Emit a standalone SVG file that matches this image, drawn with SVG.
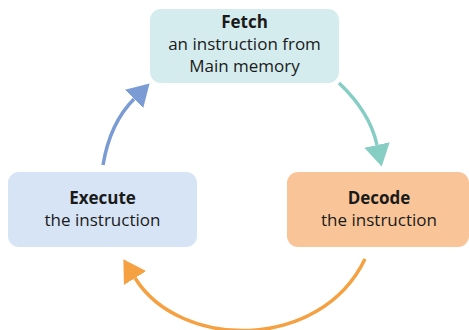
<svg xmlns="http://www.w3.org/2000/svg" width="469" height="330" viewBox="0 0 469 330">
  <style>
    .label { font-family: "Open Sans", "Noto Sans", "DejaVu Sans", sans-serif; font-size: 17px; fill: #1a1a1a; text-anchor: middle; }
    .title { font-weight: bold; }
    .flow { fill: none; stroke-width: 3.5; }
  </style>
  <defs>
    <marker id="head-blue" markerUnits="userSpaceOnUse" markerWidth="22" markerHeight="26" refX="0" refY="13" orient="auto">
      <path d="M0,0 L22,13 L0,26 z" fill="#7b9bd4"/>
    </marker>
    <marker id="head-teal" markerUnits="userSpaceOnUse" markerWidth="22" markerHeight="26" refX="0" refY="13" orient="auto">
      <path d="M0,0 L22,13 L0,26 z" fill="#86cec4"/>
    </marker>
    <marker id="head-orange" markerUnits="userSpaceOnUse" markerWidth="22" markerHeight="26" refX="0" refY="13" orient="auto">
      <path d="M0,0 L22,13 L0,26 z" fill="#f5a142"/>
    </marker>
  </defs>

  <g id="connectors">
    <path class="flow" d="M339,83 C357,100 372,122 377,145" stroke="#86cec4" marker-end="url(#head-teal)"/>
    <path class="flow" d="M365,259 C320,352 180,350 135,278" stroke="#f5a142" marker-end="url(#head-orange)"/>
    <path class="flow" d="M103,165 C108,135 118,115 134,99" stroke="#7b9bd4" marker-end="url(#head-blue)"/>
  </g>

  <g id="fetch">
    <rect x="150" y="9" width="189" height="74" rx="11" fill="#d5ecee"/>
    <text class="label title" x="244.5" y="28">Fetch</text>
    <text class="label" x="244.5" y="50">an instruction from</text>
    <text class="label" x="244.5" y="72">Main memory</text>
  </g>

  <g id="decode">
    <rect x="287" y="172" width="182" height="75" rx="11" fill="#f9c598"/>
    <text class="label title" x="379" y="203.5">Decode</text>
    <text class="label" x="379" y="225.5">the instruction</text>
  </g>

  <g id="execute">
    <rect x="8" y="172" width="189" height="75" rx="11" fill="#d6e4f5"/>
    <text class="label title" x="102.5" y="203.5">Execute</text>
    <text class="label" x="102.5" y="225.5">the instruction</text>
  </g>
</svg>
